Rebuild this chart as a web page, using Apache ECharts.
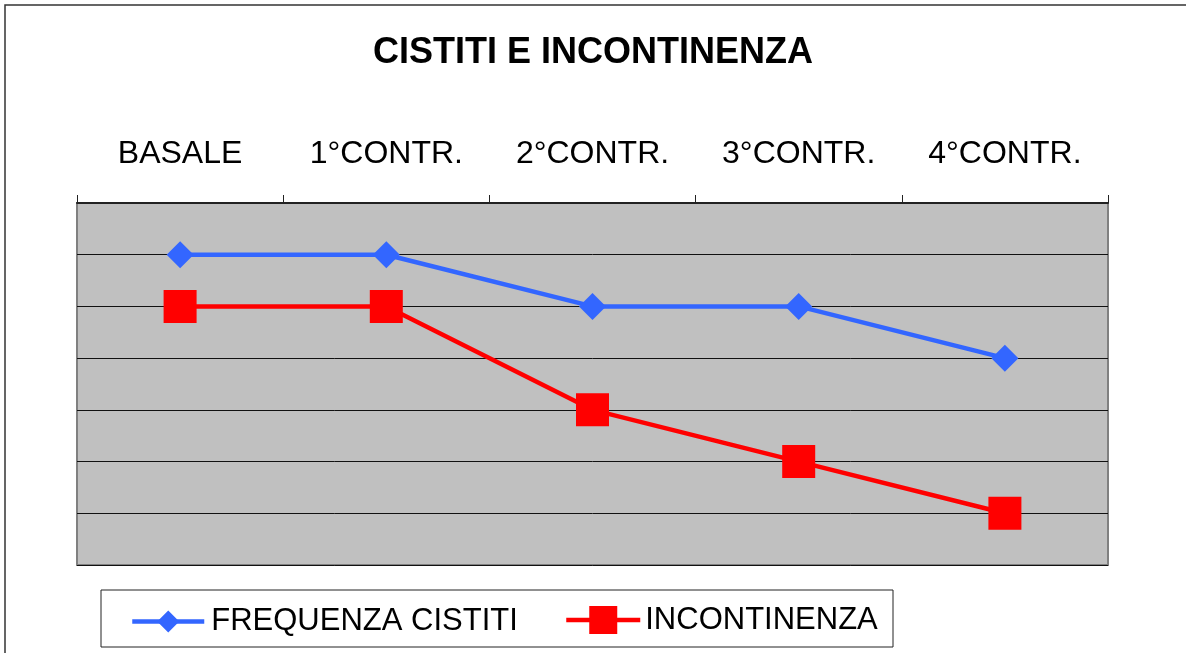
<!DOCTYPE html>
<html>
<head>
<meta charset="utf-8">
<script src="https://cdn.jsdelivr.net/npm/echarts@6/dist/echarts.min.js"></script>
<style>
html,body{margin:0;padding:0;background:#fff;}
#chart{width:1186px;height:653px;}
</style>
</head>
<body>
<div id="chart"></div>
<script>
const categories = ['BASALE', '1°CONTR.', '2°CONTR.', '3°CONTR.', '4°CONTR.'];
const frequenzaCistiti = [6, 6, 5, 5, 4];
const incontinenza = [5, 5, 3, 2, 1];
const seriesNames = ['FREQUENZA CISTITI', 'INCONTINENZA'];
const titleText = 'CISTITI E INCONTINENZA';

const FONT = '"Liberation Sans", Arial, sans-serif';
const chart = echarts.init(document.getElementById('chart'), null, {renderer: 'canvas'});
chart.setOption({
  animation: false,
  backgroundColor: '#ffffff',
  title: {
    text: titleText,
    left: 'center',
    top: 30,
    textStyle: {fontFamily: FONT, fontSize: 36, fontWeight: 'bold', color: '#000'}
  },
  graphic: [
    {type: 'rect', z: -10, silent: true, shape: {x: 5, y: 5, width: 1300, height: 800},
     style: {fill: 'none', stroke: '#333', lineWidth: 1.5}},
    {type: 'rect', z: -5, silent: true, shape: {x: 101, y: 590, width: 792, height: 57},
     style: {fill: '#fff', stroke: '#222', lineWidth: 1}}
  ],
  legend: [
    {
      data: [seriesNames[0]],
      left: 130, top: 606, padding: 0,
      itemWidth: 72, itemHeight: 27.5,
      lineStyle: {width: 4.5},
      textStyle: {fontFamily: FONT, fontSize: 31, color: '#000', padding: [0, 0, 0, 2]}
    },
    {
      data: [seriesNames[1]],
      left: 564, top: 604.5, padding: 0,
      itemWidth: 74, itemHeight: 35,
      lineStyle: {width: 4.5},
      textStyle: {fontFamily: FONT, fontSize: 31, color: '#000', padding: [0, 0, 0, 0]}
    }
  ],
  grid: {
    left: 77, right: 78, top: 203, bottom: 88,
    show: true, backgroundColor: '#C0C0C0', borderColor: '#808080', borderWidth: 2
  },
  xAxis: {
    type: 'category',
    position: 'top',
    data: categories,
    boundaryGap: true,
    axisLine: {show: true, onZero: false, lineStyle: {color: '#222', width: 2}},
    axisTick: {show: true, length: 8, lineStyle: {color: '#222', width: 1}},
    axisLabel: {fontFamily: FONT, fontSize: 32, color: '#000', margin: 33},
    splitLine: {show: false}
  },
  yAxis: {
    type: 'value',
    min: 0, max: 7, interval: 1,
    axisLine: {show: false},
    axisTick: {show: false},
    axisLabel: {show: false},
    splitLine: {show: true, lineStyle: {color: '#111', width: 1}}
  },
  series: [
    {
      name: seriesNames[0], type: 'line', data: frequenzaCistiti,
      symbol: 'diamond', symbolSize: 27,
      itemStyle: {color: '#3366FF'},
      lineStyle: {color: '#3366FF', width: 4.5},
      emphasis: {disabled: true}
    },
    {
      name: seriesNames[1], type: 'line', data: incontinenza,
      symbol: 'rect', symbolSize: 33,
      itemStyle: {color: '#FF0000'},
      lineStyle: {color: '#FF0000', width: 4.5},
      emphasis: {disabled: true}
    }
  ]
});
</script>
</body>
</html>
